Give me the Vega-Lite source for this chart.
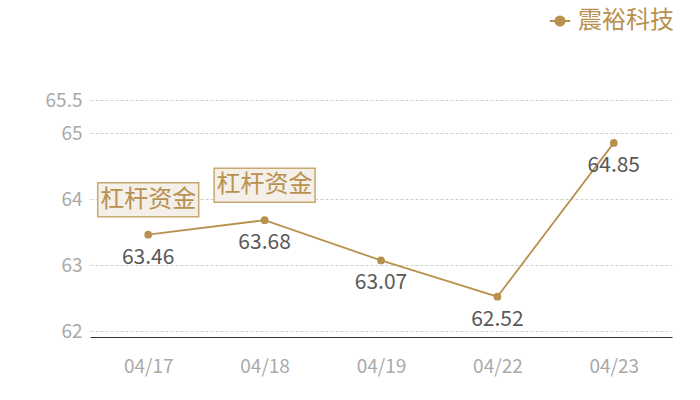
{
  "$schema": "https://vega.github.io/schema/vega-lite/v6.json",
  "autosize": {"type": "none"},
  "width": 582,
  "height": 237,
  "padding": {"left": 90, "top": 100, "right": 28, "bottom": 63},
  "background": "white",
  "config": {
    "font": "Noto Sans CJK SC",
    "view": {"stroke": null}
  },
  "data": {
    "values": [
      {"date": "04/17", "close": 63.46, "series": "震裕科技", "note": "杠杆资金"},
      {"date": "04/18", "close": 63.68, "series": "震裕科技", "note": "杠杆资金"},
      {"date": "04/19", "close": 63.07, "series": "震裕科技", "note": null},
      {"date": "04/22", "close": 62.52, "series": "震裕科技", "note": null},
      {"date": "04/23", "close": 64.85, "series": "震裕科技", "note": null}
    ]
  },
  "encoding": {
    "x": {
      "field": "date", "type": "ordinal",
      "scale": {"type": "point", "padding": 0.5},
      "axis": {
        "title": null, "labelAngle": 0, "labelColor": "#aaaaaa", "labelFontSize": 19,
        "labelPadding": 20, "ticks": false, "domainColor": "#333333", "domainWidth": 1.2,
        "grid": false
      }
    },
    "y": {
      "field": "close", "type": "quantitative",
      "scale": {"domain": [61.91, 65.5], "zero": false, "nice": false},
      "axis": {
        "title": null, "values": [62, 63, 64, 65, 65.5], "labelExpr": "format(datum.value, '.1~f')", "labelColor": "#aaaaaa",
        "labelFontSize": 19, "labelPadding": 8, "ticks": false, "domain": false,
        "gridColor": "#d0d0d0", "gridDash": [3, 2], "gridWidth": 1
      }
    }
  },
  "layer": [
    {
      "mark": {"type": "line", "color": "#b8914f", "strokeWidth": 1.8, "point": {"filled": true, "size": 60, "color": "#b8914f"}},
      "encoding": {
        "color": {
          "field": "series", "type": "nominal",
          "scale": {"range": ["#b8914f"]},
          "legend": {
            "title": null, "orient": "none", "legendX": 458, "legendY": -91,
            "labelFontSize": 24, "labelColor": "#b8914f",
            "symbolType": "M-1,0H-0.45A0.45,0.45 0 1,1 0.45,0H1M0.45,0A0.45,0.45 0 1,1 -0.45,0",
            "symbolSize": 420, "symbolStrokeWidth": 1.8, "symbolFillColor": "#b8914f", "symbolStrokeColor": "#b8914f",
            "labelOffset": 6
          }
        }
      }
    },
    {
      "mark": {"type": "text", "fontSize": 21, "color": "#595959", "dy": 23},
      "encoding": {"text": {"field": "close", "type": "quantitative", "format": ".2f"}}
    },
    {
      "transform": [{"filter": "datum.note != null"}],
      "mark": {"type": "rect", "width": 101, "height": 34, "yOffset": -35, "fill": "#f4efe8", "stroke": "#c9a86f", "strokeWidth": 1.5}
    },
    {
      "transform": [{"filter": "datum.note != null"}],
      "mark": {"type": "text", "fontSize": 24, "color": "#b8914f", "yOffset": -35},
      "encoding": {"text": {"field": "note", "type": "nominal"}}
    }
  ]
}
